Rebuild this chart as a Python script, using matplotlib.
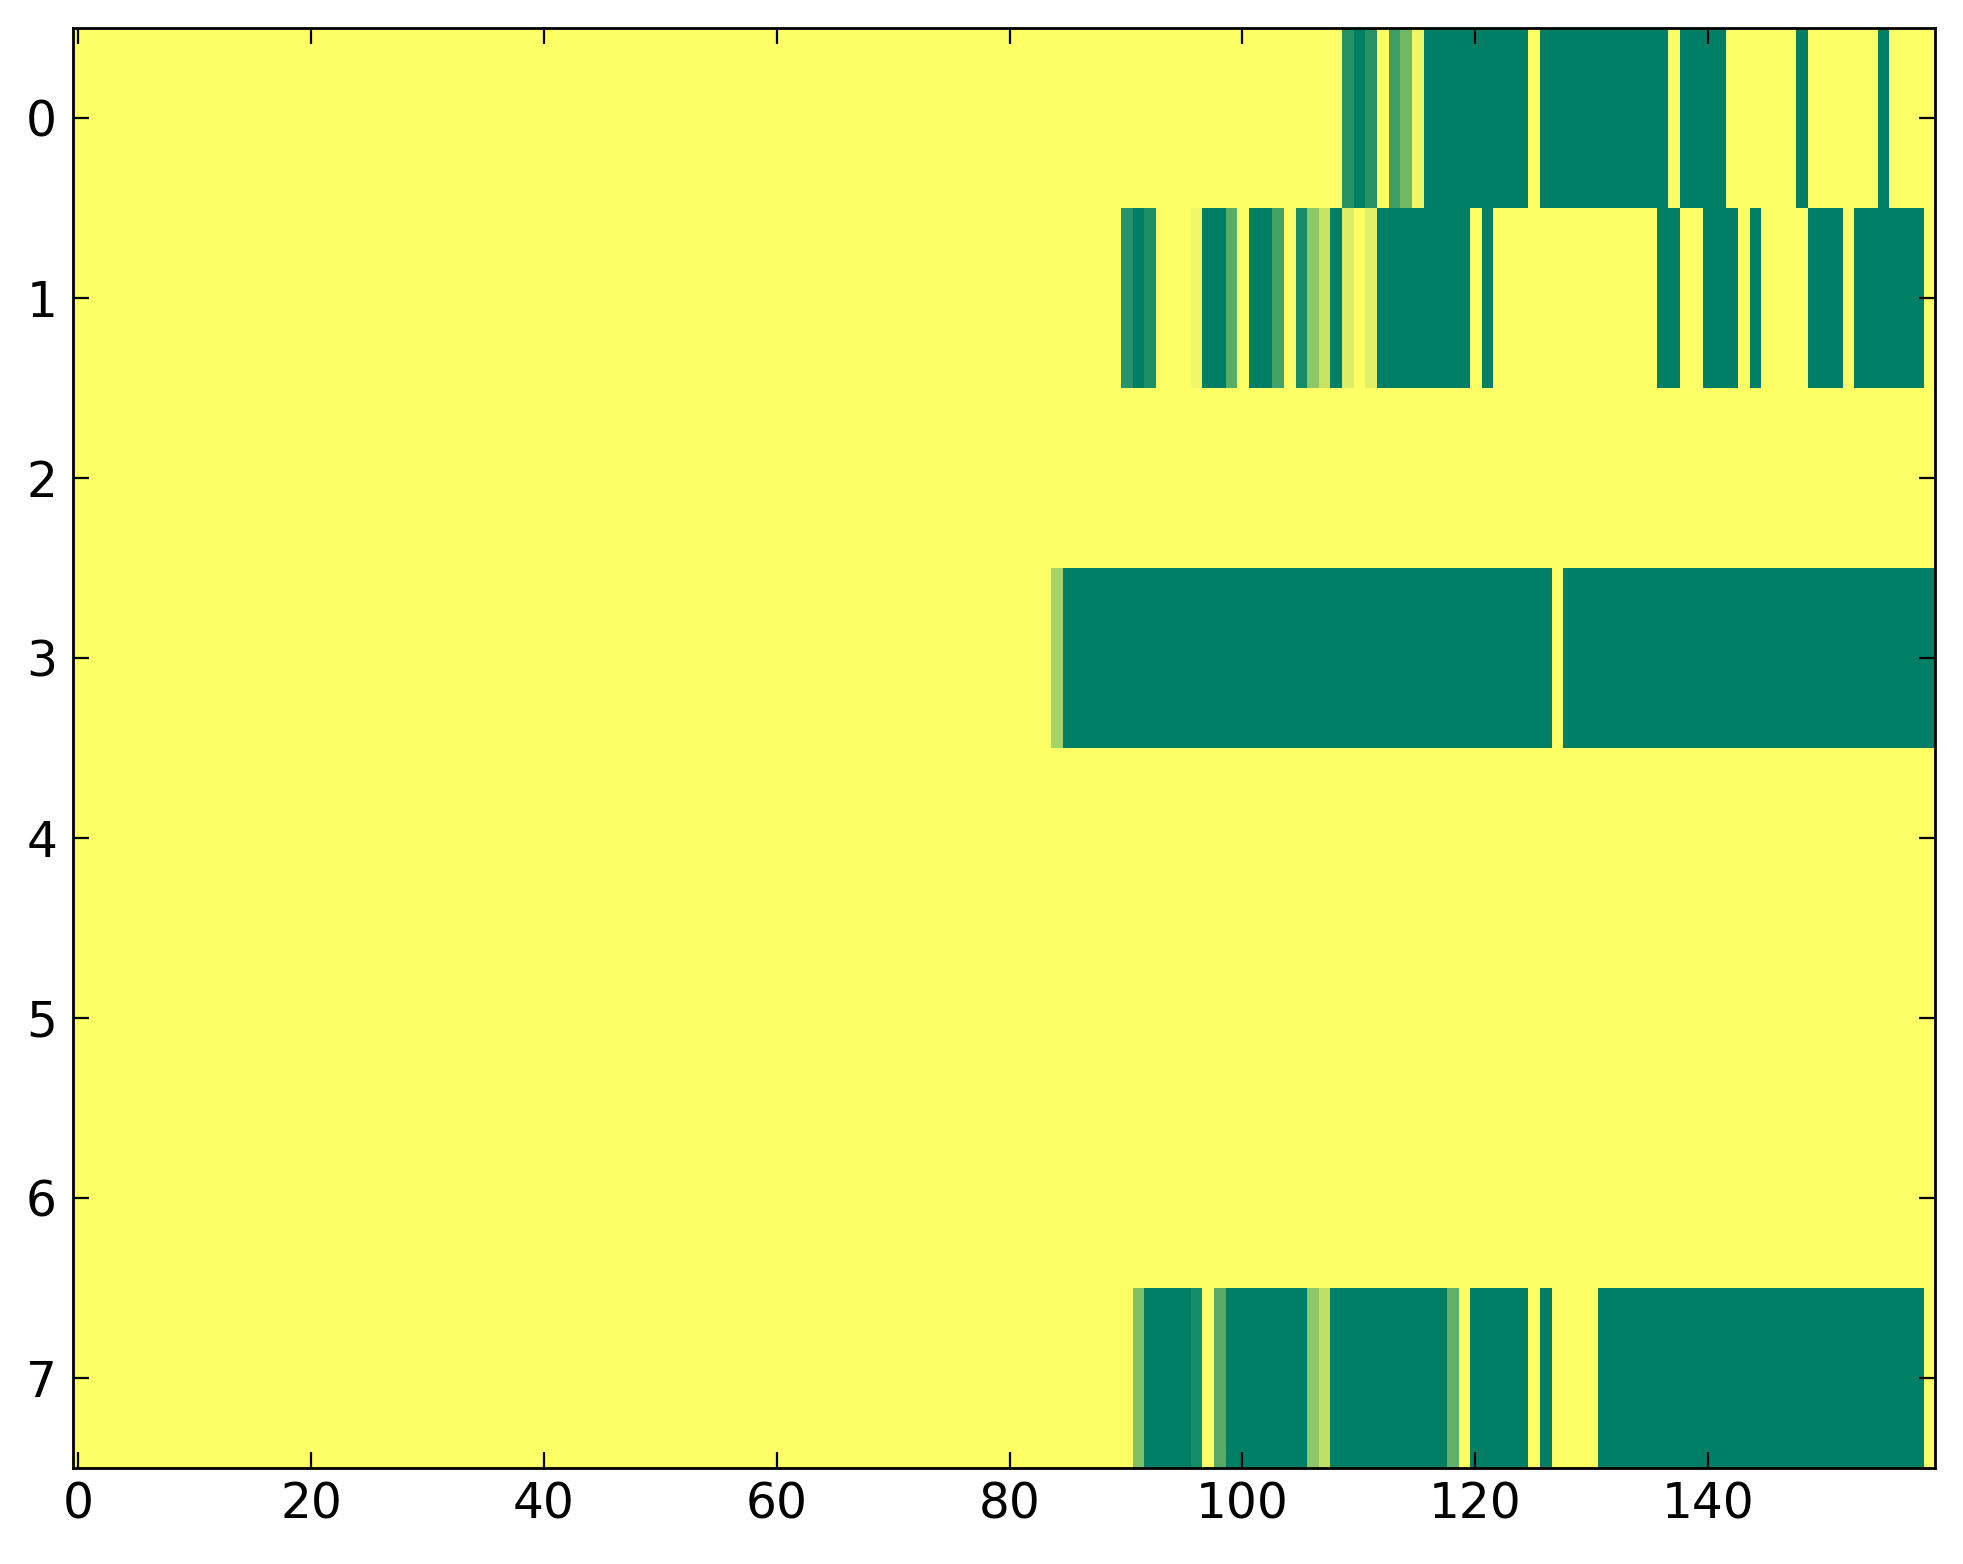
import numpy as np
import matplotlib
matplotlib.use("Agg")
import matplotlib.pyplot as plt

n_cols = 160
n_rows = 8

# Row 0 values for columns 109..159
row0_start = 109
row0_vals = ([0.85, 1, 0.85, 0, 0.76, 0.56, 0.07] + [1] * 9 + [0] + [1] * 11 + [0]
             + [1] * 4 + [0] * 6 + [1] + [0] * 6 + [1] + [0] * 4)

# Row 1 values for columns 90..159
row1_start = 90
row1_vals = ([0.84, 1, 0.88, 0, 0, 0, 0.06, 1, 1, 0.65, 0, 1, 1, 0.73, 0, 0.9, 0.44,
              0.22, 1, 0.14, 0, 0.12] + [1] * 8 + [0] + [1] + [0] * 14 + [1] * 2
             + [0] * 2 + [1] * 3 + [0] + [1] + [0] * 4 + [1] * 3 + [0] + [1] * 6 + [0])

# Row 3 values for columns 84..159
row3_start = 84
row3_vals = [0.35] + [1] * 42 + [0] + [1] * 32

# Row 7 values for columns 91..159
row7_start = 91
row7_vals = ([0.5] + [1] * 4 + [0.9, 0, 0.66] + [1] * 7 + [0.44, 0.25] + [1] * 10
             + [0.62, 0] + [1] * 5 + [0] + [1] + [0] * 4 + [1] * 28 + [0])

data = np.zeros((n_rows, n_cols))
for r, start, vals in [(0, row0_start, row0_vals), (1, row1_start, row1_vals),
                       (3, row3_start, row3_vals), (7, row7_start, row7_vals)]:
    data[r, start:start + len(vals)] = vals

x_ticks = [0, 20, 40, 60, 80, 100, 120, 140]
y_ticks = [0, 1, 2, 3, 4, 5, 6, 7]

fig = plt.figure(figsize=(1963 / 200, 1564 / 200), dpi=200, facecolor="white")
ax = fig.add_axes([0.0370, 0.0616, 0.9487, 0.9207])
ax.imshow(data, cmap="summer_r", vmin=0, vmax=1, aspect="auto", interpolation="nearest")
ax.set_xticks(x_ticks)
ax.set_yticks(y_ticks)
ax.tick_params(direction="in", top=True, right=True, length=5.6, width=0.8,
               labelsize=17.5)
ax.tick_params(axis="x", pad=4.5)
ax.tick_params(axis="y", pad=5.6)
for s in ax.spines.values():
    s.set_linewidth(1.0)
fig.savefig("out.png", dpi=200, facecolor="white")
